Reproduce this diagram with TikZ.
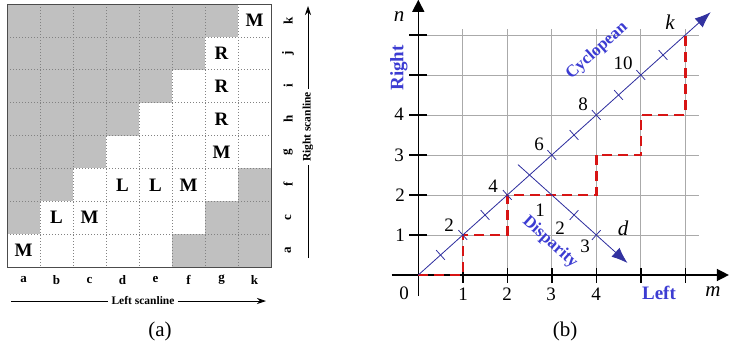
\documentclass[tikz,border=0pt]{standalone}
\usepackage{fontspec}
\setmainfont{Liberation Serif}
\usetikzlibrary{arrows.meta}
\definecolor{cellgray}{RGB}{192,192,192}
\definecolor{gridgray}{RGB}{170,170,170}
\definecolor{dotgray}{RGB}{130,130,130}
\definecolor{lineblue}{RGB}{50,50,160}
\definecolor{txtblue}{RGB}{60,60,210}
\definecolor{dashred}{RGB}{215,20,20}
\tikzset{
  cell/.style={fill=cellgray, draw=none},
  dotline/.style={draw=dotgray, line width=0.7pt, dash pattern=on 1pt off 2pt},
  letter/.style={font=\bfseries\fontsize{19}{19}\selectfont, inner sep=0pt},
  axlabel/.style={font=\bfseries\fontsize{13}{13}\selectfont, inner sep=0pt},
  scanlabel/.style={font=\bfseries\fontsize{11.5}{12}\selectfont, inner sep=3pt},
  scanarrow/.style={line width=0.8pt, -{Stealth[length=9pt,width=6pt]}},
  num/.style={font=\fontsize{19}{19}\selectfont, inner sep=0pt},
  ital/.style={font=\itshape\fontsize{21}{21}\selectfont, inner sep=0pt},
  bluetxt/.style={font=\bfseries\fontsize{17}{17}\selectfont, text=txtblue, inner sep=0pt},
  caption/.style={font=\fontsize{21}{21}\selectfont, inner sep=0pt},
  gridln/.style={draw=gridgray, line width=0.9pt},
  axisln/.style={line width=1.4pt, -{Triangle[length=12pt,width=12pt]}},
  tickln/.style={line width=1.4pt},
  blueln/.style={draw=lineblue, line width=0.8pt},
  bluearrow/.style={draw=lineblue, line width=0.8pt, -{Latex[length=16pt,width=12pt]}, fill=lineblue},
  redpath/.style={draw=dashred, line width=2.4pt, dash pattern=on 10pt off 6pt},
}
\begin{document}
\begin{tikzpicture}[x=1pt,y=-1pt]
\useasboundingbox (0,0) rectangle (729,351);
% ---------------- (a) matrix ----------------
\foreach \r/\n in {0/6,1/5,2/4,3/3,4/2}
  \foreach \c in {0,...,\n}
    \fill[cell] ({7+33*\c},{4+32.875*\r}) rectangle ++(33,32.875);
\foreach \r/\c in {5/0,5/1,5/7,6/0,6/6,6/7,7/5,7/6,7/7}
  \fill[cell] ({7+33*\c},{4+32.875*\r}) rectangle ++(33,32.875);
\foreach \i in {1,...,7} {
  \draw[dotline] ({7+33*\i},4) -- ({7+33*\i},267);
  \draw[dotline] (7,{4+32.875*\i}) -- (271,{4+32.875*\i});
}
\draw[line width=1pt, black!70] (7,4) rectangle (271,267);
% letters in cells (col c, row r from top)
\foreach \c/\r/\t/\nm in {7/0/M/m1, 6/1/R/r1, 6/2/R/r2, 6/3/R/r3, 6/4/M/m2,
                          3/5/L/l1, 4/5/L/l2, 5/5/M/m3, 1/6/L/l3, 2/6/M/m4, 0/7/M/m5}
  \node[letter] (cell-\nm) at ({23.5+33*\c},{20.44+32.875*\r}) {\t};
% column labels
\foreach \c/\t in {0/a,1/b,2/c,3/d,4/e,5/f,6/g,7/k}
  \node[axlabel] (col-\c) at ({23.5+33*\c},280) {\t};
% row labels
\foreach \r/\t in {0/k,1/j,2/i,3/h,4/g,5/f,6/c,7/a}
  \node[axlabel, rotate=90] (row-\r) at (288,{20.44+32.875*\r}) {\t};
% scanlines
\node[scanlabel] (ls) at (143,301) {Left scanline};
\coordinate (lsA) at (11,301);
\coordinate (lsB) at (266,301);
\draw[line width=0.8pt] (lsA) -- (ls.west);
\draw[scanarrow] (ls.east) -- (lsB);
\node[scanlabel, rotate=90] (rs) at (308,127) {Right scanline};
\coordinate (rsA) at (308,258);
\coordinate (rsB) at (308,6);
\draw[line width=0.8pt] (rsA) -- (rs.west);
\draw[scanarrow] (rs.east) -- (rsB);
\node[caption] (capa) at (160,331) {(a)};
% ---------------- (b) plot ----------------
\begin{scope}[shift={(418.3,275)}, x=44.5pt, y=40pt]
  \foreach \i in {1,...,6} {
    \draw[gridln] (\i,0) -- (\i,6.15);
    \draw[gridln] (0,\i) -- (6.3,\i);
  }
  \coordinate (O) at (0,0);
  \coordinate (xS) at (-0.6,0);
  \coordinate (xE) at (6.98,0);
  \coordinate (yS) at (0,-0.53);
  \coordinate (yE) at (0,6.88);
  \draw[axisln] (xS) -- (xE);
  \draw[axisln] (yS) -- (yE);
  \foreach \i in {1,...,6} {
    \draw[tickln] (0,\i) ++(-9pt,0) -- ++(18pt,0);
    \draw[tickln] (\i,0) ++(0,-7.5pt) -- ++(0,15pt);
  }
  % red dashed path
  \draw[redpath] (O) -- (1,0) -- (1,1) -- (2,1) -- (2,2) -- (4,2) -- (4,3) -- (5,3) -- (5,4) -- (6,4) -- (6,6);
  % cyclopean
  \coordinate (K) at (6.57,6.57);
  \draw[bluearrow] (O) -- (K);
  \foreach \t in {0.5,1,1.5,2,3,3.5,4,4.5,5,5.5}
    \draw[blueln] (\t,\t) ++(-4.35pt,4.84pt) -- ++(8.7pt,-9.68pt);
  % disparity
  \coordinate (D0) at (2.24,2.76);
  \coordinate (D1) at (4.7,0.3);
  \draw[bluearrow] (D0) -- (D1);
  \foreach \t in {3.5,4}
    \draw[blueln] (\t,{5-\t}) ++(-4.35pt,-4.84pt) -- ++(8.7pt,9.68pt);
\end{scope}
% labels of (b), in picture pixels
\node[ital] (nlab) at (399,17) {n};
\node[bluetxt, font=\bfseries\fontsize{19}{19}\selectfont, rotate=90] (right) at (399,68) {Right};
\node[num] (y4) at (399,114) {4};
\node[num] (y3) at (399,155) {3};
\node[num] (y2) at (400,195) {2};
\node[num] (y1) at (400,235) {1};
\node[num] (x0) at (404,293) {0};
\node[num] (x1) at (463,294) {1};
\node[num] (x2) at (507,294) {2};
\node[num] (x3) at (551,294) {3};
\node[num] (x4) at (596,294) {4};
\node[bluetxt, font=\bfseries\fontsize{19}{19}\selectfont] (left) at (659,293) {Left};
\node[ital] (mlab) at (713,292) {m};
\node[num] (c2) at (449,225) {2};
\node[num] (c4) at (493,186) {4};
\node[num] (c6) at (539,144) {6};
\node[num] (c8) at (583,104) {8};
\node[num] (c10) at (623,63) {10};
\node[ital] (klab) at (670,22) {k};
\node[num] (d1) at (540,210) {1};
\node[num] (d2) at (560,228) {2};
\node[num] (d3) at (585,246) {3};
\node[ital] (dlab) at (623,228) {d};
\node[bluetxt, rotate=42] (cyc) at (597,51) {Cyclopean};
\node[bluetxt, rotate=-42] (disp) at (550,242) {Disparity};
\node[caption] (capb) at (565,331) {(b)};
\end{tikzpicture}
\end{document}
